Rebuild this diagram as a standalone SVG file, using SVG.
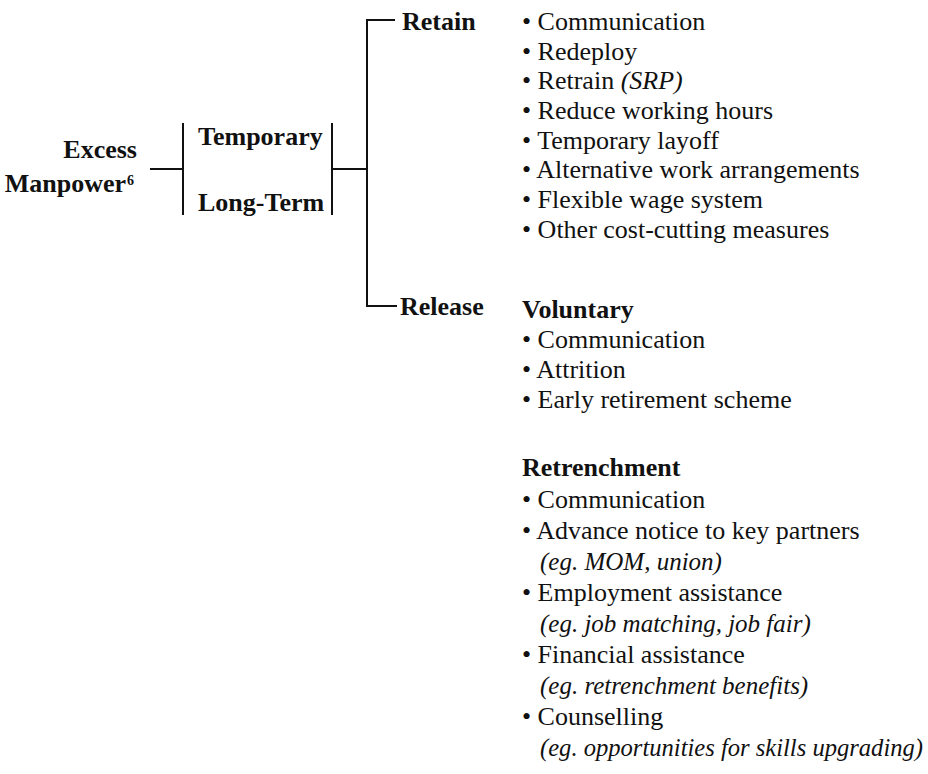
<svg xmlns="http://www.w3.org/2000/svg" width="928" height="774" viewBox="0 0 928 774">
<style>
text{font-family:"Liberation Serif","Times New Roman",serif;font-size:26px;fill:#111}
.b{font-weight:bold}
.i{font-style:italic}
.eg{font-style:italic;font-size:25px}
.end{text-anchor:end}
.sup{font-size:14px}
.ln{fill:none;stroke:#111;stroke-width:2}
</style>
<rect width="928" height="774" fill="#fff"/>
<g id="connectors">
<path class="ln" d="M150,169 H183"/>
<path class="ln" d="M183,123 V215"/>
<path class="ln" d="M332,123 V215"/>
<path class="ln" d="M332,169 H367"/>
<path class="ln" d="M395,20 H367 V306 H397"/>
</g>
<g id="excess">
<text class="b end" x="137" y="158">Excess</text>
<text class="b end" x="126" y="192">Manpower</text>
<text class="b sup" x="127" y="185">6</text>
</g>
<g id="temporary"><text class="b" x="198" y="145">Temporary</text></g>
<g id="longterm"><text class="b" x="198" y="211">Long-Term</text></g>
<g id="retain"><text class="b" x="402" y="30">Retain</text></g>
<g id="release"><text class="b" x="400" y="315">Release</text></g>
<g id="retain-list">
<text x="522" y="30">• Communication</text>
<text x="522" y="60">• Redeploy</text>
<text x="522" y="89">• Retrain <tspan class="i">(SRP)</tspan></text>
<text x="522" y="119">• Reduce working hours</text>
<text x="522" y="149">• Temporary layoff</text>
<text x="522" y="178">• Alternative work arrangements</text>
<text x="522" y="208">• Flexible wage system</text>
<text x="522" y="238">• Other cost-cutting measures</text>
</g>
<g id="voluntary">
<text class="b" x="522" y="318">Voluntary</text>
<text x="522" y="348">• Communication</text>
<text x="522" y="378">• Attrition</text>
<text x="522" y="408">• Early retirement scheme</text>
</g>
<g id="retrenchment">
<text class="b" x="522" y="476">Retrenchment</text>
<text x="522" y="508">• Communication</text>
<text x="522" y="539">• Advance notice to key partners</text>
<text class="eg" x="540" y="570">(eg. MOM, union)</text>
<text x="522" y="601">• Employment assistance</text>
<text class="eg" x="540" y="632">(eg. job matching, job fair)</text>
<text x="522" y="663">• Financial assistance</text>
<text class="eg" x="540" y="694">(eg. retrenchment benefits)</text>
<text x="522" y="725">• Counselling</text>
<text class="eg" x="540" y="756" textLength="383" lengthAdjust="spacingAndGlyphs">(eg. opportunities for skills upgrading)</text>
</g>
</svg>
